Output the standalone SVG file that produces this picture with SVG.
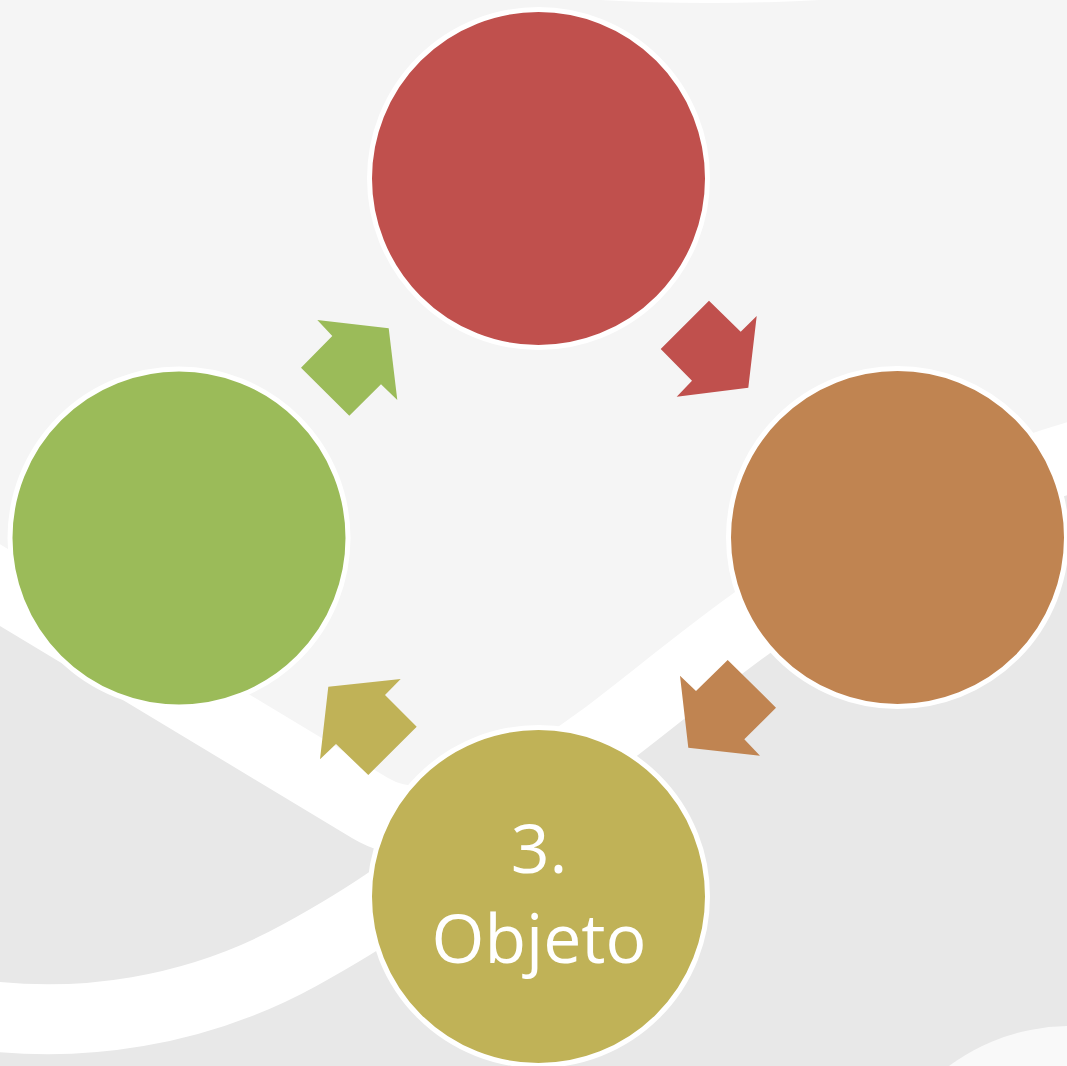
<svg xmlns="http://www.w3.org/2000/svg" width="1067" height="1066" viewBox="0 0 1067 1066">
  <style>
    .band { fill: none; stroke: #ffffff; stroke-width: 70; }
    .ring { stroke: #ffffff; stroke-width: 5; }
    .lbl { fill: #ffffff; font-family: "Open Sans", "Noto Sans", sans-serif; font-size: 68px; text-anchor: middle; }
  </style>
  <g id="background">
    <rect x="0" y="0" width="1067" height="1066" fill="#e8e8e8"/>
    <path d="M -40,561 L 370,808 Q 446,854 600,740 C 700,666 860,515 1090,452 L 1090,-10 L -40,-10 Z" fill="#f5f5f5"/>
    <circle cx="1070" cy="1229" r="203" fill="#f9f9f9"/>
    <ellipse cx="710" cy="-40" rx="300" ry="43" fill="#ffffff"/>
    <path class="band" d="M -40,561 L 370,808 Q 446,854 600,740 C 700,666 860,515 1090,452"/>
    <path class="band" d="M -40,1012 C 80,1032 200,1010 300,955 S 430,870 480,830"/>
  </g>
  <g id="connectors">
    <polygon points="709,300.7 740.7,331.7 756.7,316 748.3,387.7 676.7,396.7 692,380.7 660.7,349" fill="#c0504d"/>
    <polygon points="727.7,660 776,707.7 744.3,739.3 760,755.7 688.3,747.7 680,675.7 696,691" fill="#c08451"/>
    <polygon points="400.7,679 385,695 416.7,726.7 368.3,775 336,744 320,759.3 328.3,686.7" fill="#c0b257"/>
    <polygon points="317.3,320 388.7,328.3 397.3,400 381,384.3 349.3,415.7 301,367.7 332.3,336" fill="#9bbb59"/>
  </g>
  <g id="node-1">
    <circle class="ring" cx="538.5" cy="178.5" r="169" fill="#c0504d"/>
  </g>
  <g id="node-2">
    <circle class="ring" cx="897.5" cy="537.5" r="169" fill="#c08451"/>
  </g>
  <g id="node-3">
    <circle class="ring" cx="538.5" cy="896.5" r="169" fill="#c0b257"/>
    <text class="lbl" x="539" y="873">3.</text>
    <text class="lbl" x="539" y="963">Objeto</text>
  </g>
  <g id="node-4">
    <circle class="ring" cx="179" cy="538" r="169" fill="#9bbb59"/>
  </g>
</svg>
